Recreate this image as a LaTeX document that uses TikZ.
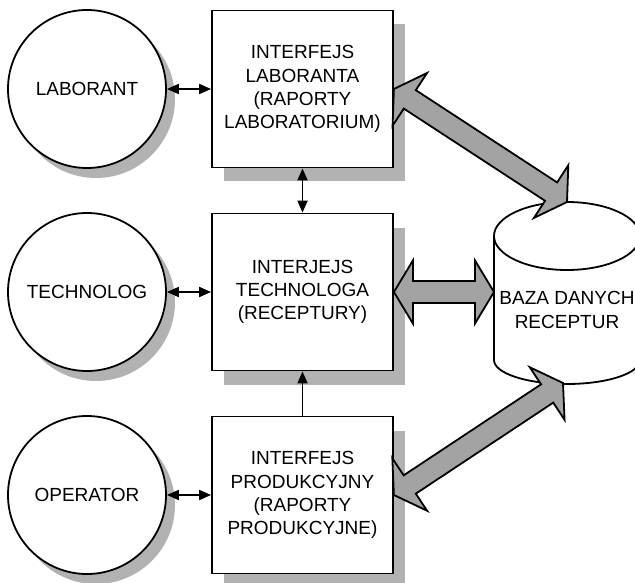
\documentclass[tikz,border=0pt]{standalone}
\usepackage{fontspec}
\setmainfont{Liberation Sans}
\usepackage{xcolor}
\usepackage{tikz}
\usetikzlibrary{calc,shadows,arrows.meta}

\definecolor{shadowgray}{gray}{0.70}
\definecolor{arrowgray}{gray}{0.64}

\tikzset{
  actor/.style={circle, draw, line width=1.8pt, fill=white, minimum size=158pt, inner sep=0pt,
    drop shadow={shadow xshift=9pt, shadow yshift=-10pt, fill=shadowgray, opacity=1}},
  iface/.style={rectangle, draw, line width=1.8pt, fill=white, minimum width=181pt,
    minimum height=157pt, align=center,
    drop shadow={shadow xshift=12pt, shadow yshift=-14pt, fill=shadowgray, opacity=1}},
  link/.style={line width=1.8pt, >={Triangle[length=12pt,width=10pt]}},
  fatarr/.style={draw, line width=1.8pt, fill=arrowgray, line join=miter},
  every node/.style={font=\fontsize{19}{23.3}\selectfont}
}

% wide double arrow between two points
\newcommand{\fatarrow}[2]{%
\draw[fatarr] (#1)
  -- ($(#1)!19pt!(#2)!31.5pt!90:(#2)$)
  -- ($(#1)!19pt!(#2)!11pt!90:(#2)$)
  -- ($(#2)!19pt!(#1)!11pt!-90:(#1)$)
  -- ($(#2)!19pt!(#1)!31.5pt!-90:(#1)$)
  -- (#2)
  -- ($(#2)!19pt!(#1)!31.5pt!90:(#1)$)
  -- ($(#2)!19pt!(#1)!11pt!90:(#1)$)
  -- ($(#1)!19pt!(#2)!11pt!-90:(#2)$)
  -- ($(#1)!19pt!(#2)!31.5pt!-90:(#2)$)
  -- cycle;}

\begin{document}
\begin{tikzpicture}[x=1pt, y=1pt]
\useasboundingbox (0,0) rectangle (635,-583);

% users
\node[actor] (lab) at (87,-89) {LABORANT};
\node[actor] (tech) at (87,-292) {TECHNOLOG};
\node[actor] (op) at (87,-495) {OPERATOR};

% interfaces
\node[iface] (ifl) at (302.5,-89) {INTERFEJS\\LABORANTA\\(RAPORTY\\LABORATORIUM)};
\node[iface] (ift) at (302.5,-292) {INTERJEJS\\TECHNOLOGA\\(RECEPTURY)};
\node[iface] (ifp) at (302.5,-495) {INTERFEJS\\PRODUKCYJNY\\(RAPORTY\\PRODUKCYJNE)};

% database
\draw[line width=1.8pt, fill=white] (494,-236) -- (494,-360)
  arc[start angle=180, end angle=360, x radius=73pt, y radius=24pt] -- (640,-236);
\draw[line width=1.8pt, fill=white] (567,-236) ellipse [x radius=73pt, y radius=34pt];
\node[align=center] (db) at (567,-310) {BAZA DANYCH\\RECEPTUR};
\coordinate (dbtop) at (567,-202);
\coordinate (dbleft) at (494,-292);
\coordinate (dbbot) at (563,-383);

% connections
\draw[link, <->] (lab) -- (ifl);
\draw[link, <->] (tech) -- (ift);
\draw[link, <->] (op) -- (ifp);
\draw[link, <->] (ifl) -- (ift);
\draw[link, ->] (ifp) -- (ift);

\fatarrow{ifl.east}{dbtop}
\fatarrow{ift.east}{dbleft}
\fatarrow{ifp.east}{dbbot}
\end{tikzpicture}
\end{document}
